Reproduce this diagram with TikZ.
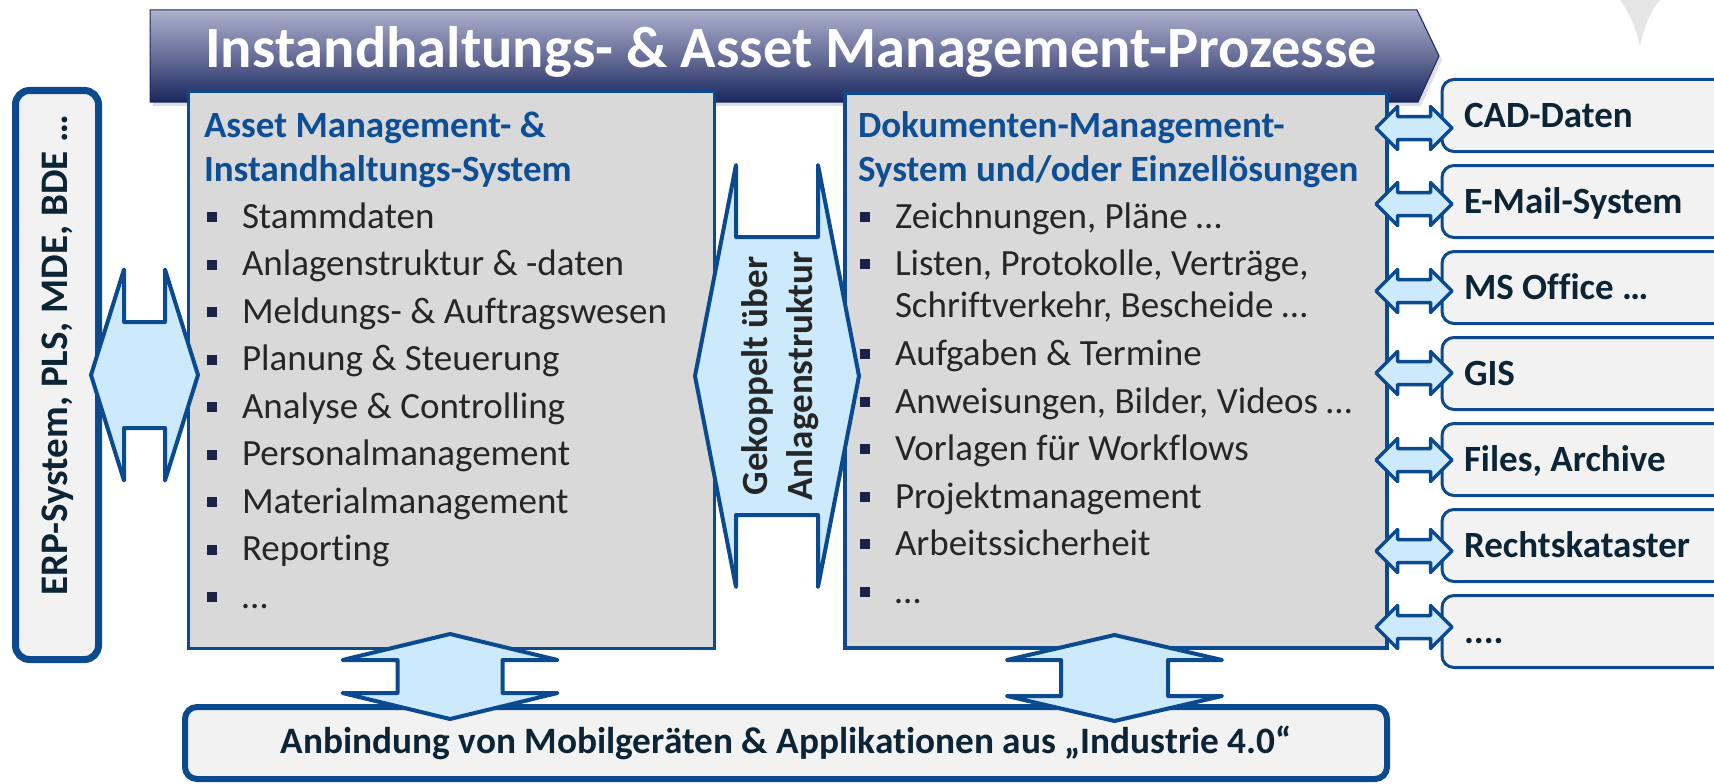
\documentclass[tikz,border=0pt]{standalone}
\usepackage{fontspec}
\setmainfont{Carlito}[Ligatures=CommonOff]
\usetikzlibrary{shadows}
\definecolor{navyb}{HTML}{0B4A8E}
\definecolor{afill}{HTML}{CCEAFB}
\definecolor{lfill}{HTML}{F2F2F2}
\definecolor{gfill}{HTML}{D9D9D9}
\definecolor{headc}{HTML}{0D4E95}
\definecolor{itemc}{HTML}{262626}
\definecolor{darkc}{HTML}{0C2536}
\definecolor{bulc}{HTML}{1B2348}
\definecolor{bantop}{HTML}{ABB0CC}
\definecolor{banmid}{HTML}{676E98}
\definecolor{banbot}{HTML}{1A275E}
\definecolor{ghost}{HTML}{E6E6E6}
\newcommand\fsz[1]{\fontsize{#1}{#1}\selectfont}
% horizontal double block arrow: cx, cy, half length, head length, head half-height, neck half-height
\newcommand\hdblarrow[6]{\draw[blockarrow] ({#1-#3},{#2}) -- ({#1-#3+#4},{#2-#5}) -- ({#1-#3+#4},{#2-#6}) -- ({#1+#3-#4},{#2-#6}) -- ({#1+#3-#4},{#2-#5}) -- ({#1+#3},{#2}) -- ({#1+#3-#4},{#2+#5}) -- ({#1+#3-#4},{#2+#6}) -- ({#1-#3+#4},{#2+#6}) -- ({#1-#3+#4},{#2+#5}) -- cycle;}
% vertical double block arrow
\newcommand\vdblarrow[6]{\draw[blockarrow] ({#1},{#2-#3}) -- ({#1-#5},{#2-#3+#4}) -- ({#1-#6},{#2-#3+#4}) -- ({#1-#6},{#2+#3-#4}) -- ({#1-#5},{#2+#3-#4}) -- ({#1},{#2+#3}) -- ({#1+#5},{#2+#3-#4}) -- ({#1+#6},{#2+#3-#4}) -- ({#1+#6},{#2-#3+#4}) -- ({#1+#5},{#2-#3+#4}) -- cycle;}
\begin{document}
\begin{tikzpicture}[x=1pt,y=-1pt,
  blockarrow/.style={draw=navyb, fill=afill, line width=4pt, line join=round},
  txt/.style={inner sep=0pt, outer sep=0pt},
  item/.style={txt, anchor=base west, text=itemc, font=\fsz{37}},
  head/.style={txt, anchor=base west, text=headc, font=\fsz{37}\bfseries},
  lab/.style={txt, anchor=base west, text=darkc, font=\fsz{37}\bfseries},
  sysbox/.style={draw=navyb, fill=gfill, line width=3.5pt, inner sep=0pt},
  extbox/.style={draw=navyb, fill=lfill, line width=3pt, rounded corners=12pt, inner sep=0pt, anchor=west, minimum width=300pt, minimum height=72pt}]
\useasboundingbox (0,0) rectangle (1714,784);
\clip (0,0) rectangle (1714,784);

% faint shape top right
\fill[ghost] (1620,0) .. controls (1630,14) and (1637,30) .. (1640,47) .. controls (1643,30) and (1649,13) .. (1660,0) -- cycle;

% banner
\path[drop shadow={opacity=0.25, shadow xshift=3pt, shadow yshift=-4pt},
  top color=bantop, bottom color=banbot, middle color=banmid, draw=banbot, line width=1pt]
  (150,10) -- (1417,10) -- (1439,56) -- (1418,102) -- (150,102) -- cycle;
\node[txt, anchor=base, text=white, font=\fsz{58.5}\bfseries] (title) at (791,68) {Instandhaltungs- \& Asset Management-Prozesse};

% main system boxes
\node[sysbox, minimum width=526pt, minimum height=557pt] (am) at (451.5,370) {};
\node[sysbox, minimum width=542pt, minimum height=555pt] (dms) at (1116,370.5) {};

% ERP box
\node[draw=navyb, fill=lfill, line width=7pt, rounded corners=14pt, minimum width=83pt, minimum height=569pt, inner sep=0pt] (erpbox) at (57,375) {};
\node[txt, rotate=90, anchor=base, text=darkc, font=\fsz{39}\bfseries] (erp) at (67,355) {ERP-System, PLS, MDE, BDE …};

% external boxes
\foreach \t [count=\i] in {CAD-Daten, E-Mail-System, MS Office …, GIS, {Files, Archive}, Rechtskataster} {
  \node[extbox] (ext\i) at (1440.5,{115.5+86*(\i-1)}) {};
  \node[lab] (extl\i) at (1464,{127.5+86*(\i-1)}) {\t};
}
\node[extbox] (ext7) at (1440.5,631.5) {};
\node[lab] (extl7) at (1464,643.5) {....};

% bottom bar
\node[draw=navyb, fill=lfill, line width=6pt, rounded corners=12pt, minimum width=1202pt, minimum height=72pt, inner sep=0pt] (bar) at (786,743) {};
\node[txt, anchor=base, text=darkc, font=\fsz{37.3}\bfseries] (bartxt) at (786,753) {Anbindung von Mobilgeräten \& Applikationen aus „Industrie 4.0“};

% headings
\node[head] (amh1) at (204,137) {Asset Management- \&};
\node[head] (amh2) at (204,181) {Instandhaltungs-System};
\node[head] (dmh1) at (858,137) {Dokumenten-Management-};
\node[head] (dmh2) at (858,181) {System und/oder Einzellösungen};

% left items
\foreach \t [count=\i] in {Stammdaten, Anlagenstruktur \& -daten, Meldungs- \& Auftragswesen, Planung \& Steuerung, Analyse \& Controlling, Personalmanagement, Materialmanagement, Reporting, {…}} {
  \node[item] (ami\i) at (242,{228+47.5*(\i-1)}) {\t};
  \fill[bulc] (206.5,{228+47.5*(\i-1)-16}) rectangle ++(10,10);
}
% right items
\foreach \yy/\t [count=\i] in {228/{Zeichnungen, Pläne …}, 275/{Listen, Protokolle, Verträge,}, 365/{Aufgaben \& Termine}, 413/{Anweisungen, Bilder, Videos …}, 460/{Vorlagen für Workflows}, 508/{Projektmanagement}, 555/{Arbeitssicherheit}, 603/{…}} {
  \node[item] (dmi\i) at (895,\yy) {\t};
  \fill[bulc] (859.5,{\yy-16}) rectangle ++(10,10);
}
\node[item] (dmi2b) at (895,317) {Schriftverkehr, Bescheide …};

% block arrows
\hdblarrow{144.5}{375}{53.5}{33}{105.5}{53}
\hdblarrow{777}{376}{82}{41}{211}{139}
\node[txt, rotate=90, anchor=base, text=itemc, font=\fsz{37}\bfseries] (mid1) at (767,376) {Gekoppelt über};
\node[txt, rotate=90, anchor=base, text=itemc, font=\fsz{37}\bfseries] (mid2) at (812,376) {Anlagenstruktur};
\vdblarrow{450}{676.5}{42.5}{26}{107.5}{52.5}
\vdblarrow{1114.5}{678}{43}{25}{107.5}{53.5}
\begin{scope}[blockarrow/.append style={line width=3.5pt}]
\foreach \yy in {128,204,291,373,460,551,627} {
  \hdblarrow{1414}{\yy}{38}{21.5}{21.5}{11.5}
}
\end{scope}
\end{tikzpicture}
\end{document}
